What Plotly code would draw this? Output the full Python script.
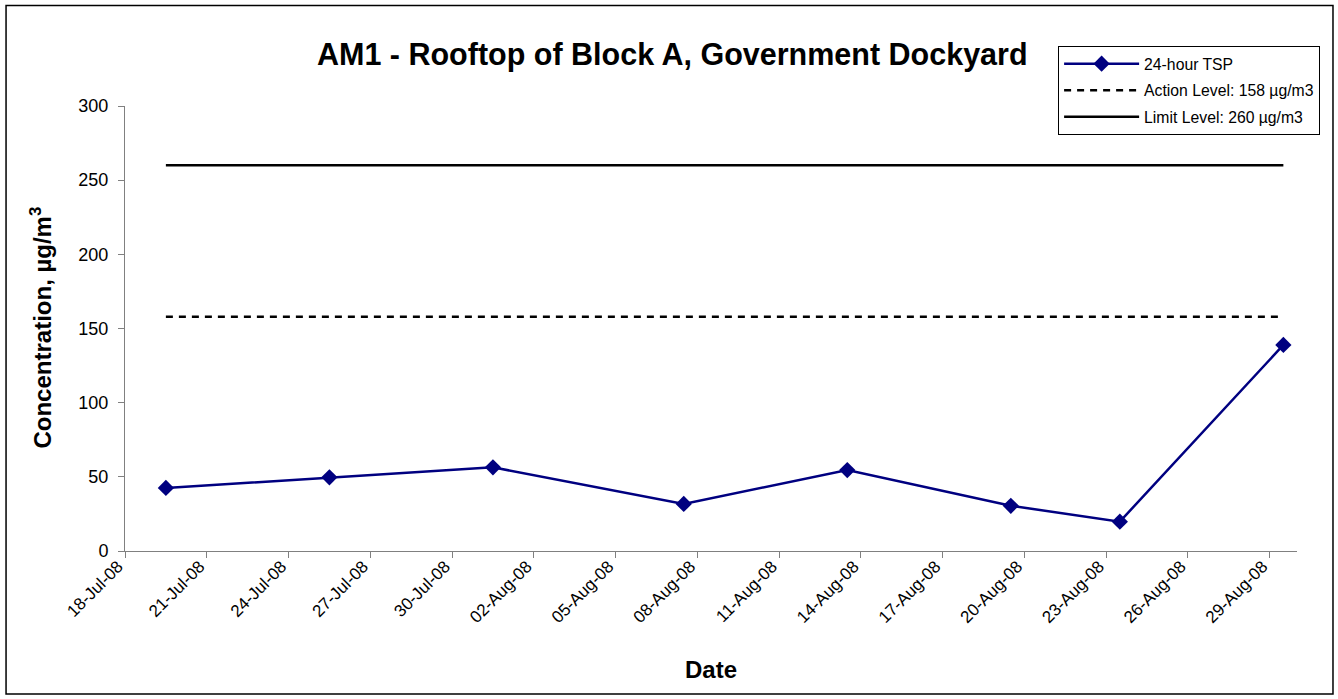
import pandas as pd
import plotly.graph_objects as go

# ---- data ----
dates = ["2008-07-19", "2008-07-25", "2008-07-31", "2008-08-07",
         "2008-08-13", "2008-08-19", "2008-08-23", "2008-08-29"]
tsp = [42.5, 49.7, 56.4, 31.7, 54.6, 30.5, 19.8, 138.9]
action_level = [158] * len(dates)
limit_level = [260] * len(dates)
series_names = ["24-hour TSP", "Action Level: 158 µg/m3", "Limit Level: 260 µg/m3"]
x_range = ["2008-07-18", "2008-08-30"]
y_ticks = [0, 50, 100, 150, 200, 250, 300]

# Excel date axis places each day's point in the middle of the day slot
x = pd.to_datetime(dates) + pd.Timedelta(hours=12)

W, H = 1338, 699
L, R, T, B = 124.5, 41, 106, 148
PW, PH = W - L - R, H - T - B


def px(xp):
    return (xp - L) / PW


def py(yp):
    return (H - B - yp) / PH


FONT = "Liberation Sans, Arial, sans-serif"

fig = go.Figure()
fig.add_trace(go.Scatter(
    x=x, y=tsp, name=series_names[0], mode="lines+markers",
    legendgroup="a",
    line=dict(color="#000080", width=2.5),
    marker=dict(symbol="diamond", size=12.5, color="#000080"),
))
fig.add_trace(go.Scatter(
    x=x, y=action_level, name=series_names[1], mode="lines",
    legendgroup="b",
    line=dict(color="black", width=2.5, dash="7px,6px"),
))
fig.add_trace(go.Scatter(
    x=x, y=limit_level, name=series_names[2], mode="lines",
    legendgroup="c",
    line=dict(color="black", width=2.5),
))

fig.update_layout(
    width=W, height=H,
    margin=dict(l=L, r=R, t=T, b=B, autoexpand=False),
    paper_bgcolor="white", plot_bgcolor="white",
    font=dict(family=FONT, color="black"),
    title=dict(text="<b>AM1 - Rooftop of Block A, Government Dockyard</b>",
               font=dict(size=30.5, family=FONT, color="black"),
               x=px(672), xref="paper", xanchor="center",
               y=1 - 54 / H, yanchor="middle"),
    showlegend=True,
    legend=dict(x=px(1058), y=py(46), xanchor="left", yanchor="top",
                bgcolor="white", bordercolor="black", borderwidth=1,
                font=dict(size=15.75, family=FONT, color="black"),
                itemwidth=75, tracegroupgap=3),
    xaxis=dict(type="date", range=x_range, tick0=x_range[0],
               dtick=3 * 86400000, tickformat="%d-%b-%y", tickangle=-45,
               showgrid=False, zeroline=False, showline=True,
               linecolor="#808080", linewidth=1,
               ticks="outside", ticklen=6, tickcolor="#808080",
               ticklabelstandoff=-8, ticklabelshift=-7,
               tickfont=dict(size=17, family=FONT, color="black")),
    yaxis=dict(range=[0, 300], tickvals=y_ticks,
               showgrid=False, zeroline=False, showline=True,
               linecolor="#808080", linewidth=1,
               ticks="outside", ticklen=6, tickcolor="#808080",
               ticklabelstandoff=6,
               tickfont=dict(size=18, family=FONT, color="black")),
    annotations=[
        dict(text="<b>Concentration, µg/m<sup>3</sup></b>", textangle=-90,
             xref="paper", yref="paper", x=px(40), y=py(328),
             xanchor="center", yanchor="middle", showarrow=False,
             font=dict(size=24, family=FONT, color="black")),
        dict(text="<b>Date</b>", xref="paper", yref="paper",
             x=px(711), y=py(669), xanchor="center", yanchor="middle",
             showarrow=False, font=dict(size=24, family=FONT, color="black")),
    ],
    shapes=[
        dict(type="rect", xref="paper", yref="paper",
             x0=px(5.5), x1=px(1333), y0=py(694), y1=py(5.5),
             line=dict(color="black", width=1.5), layer="below"),
    ],
)

fig.write_html("out.html",
               config={"displayModeBar": False},
               post_script="document.body.style.margin='0';"
                           "document.body.style.overflow='hidden';")
